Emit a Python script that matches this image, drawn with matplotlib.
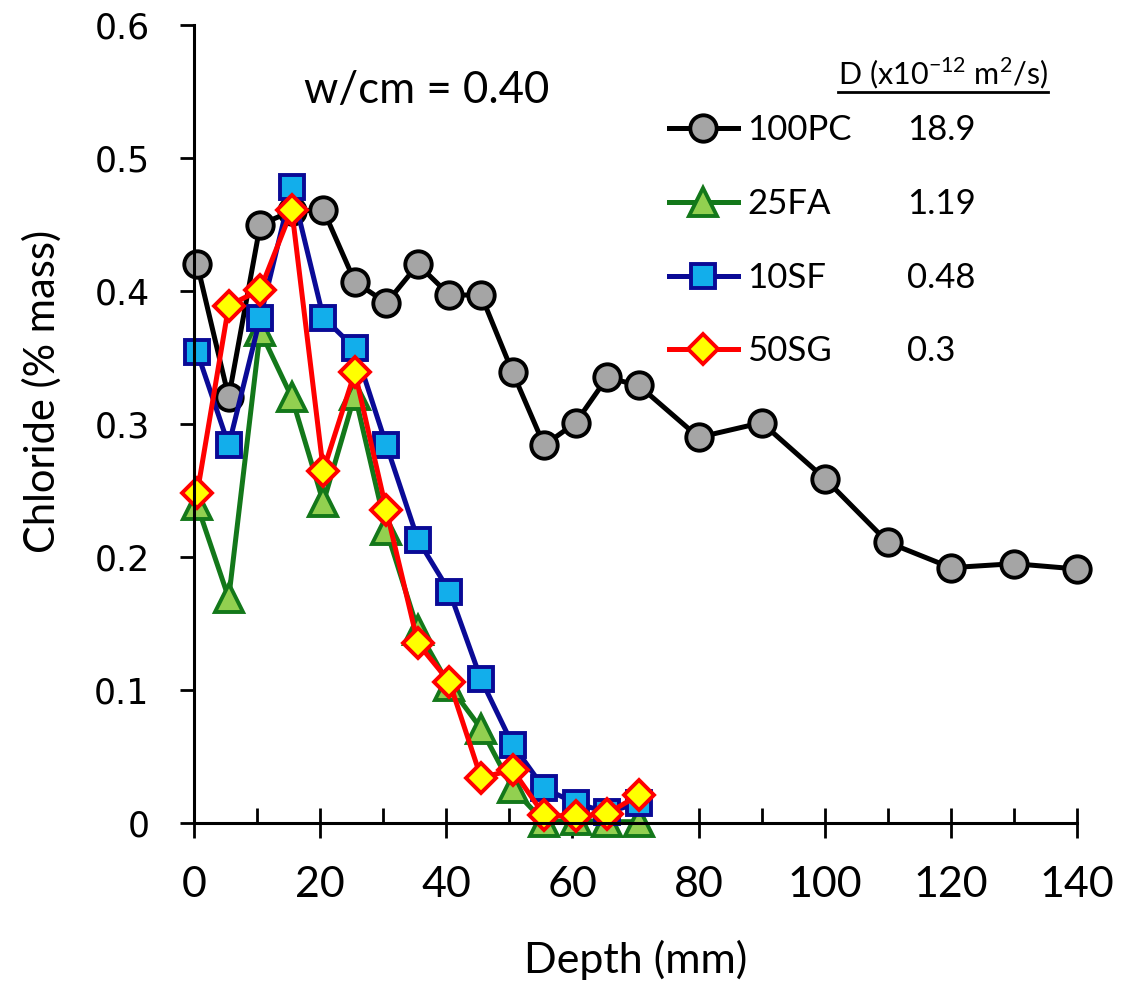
import matplotlib
matplotlib.use("Agg")
import matplotlib.pyplot as plt
from matplotlib.lines import Line2D
from matplotlib.ticker import MultipleLocator

plt.rcParams['font.family'] = ['Lato', 'DejaVu Sans']

# ---- data ----
depth_pc = [0.5, 5.5, 10.5, 15.5, 20.5, 25.5, 30.5, 35.5, 40.5, 45.5, 50.5, 55.5,
            60.5, 65.5, 70.5, 80, 90, 100, 110, 120, 130, 140]
cl_100pc = [0.420, 0.320, 0.450, 0.460, 0.461, 0.407, 0.391, 0.420, 0.397, 0.397, 0.339, 0.284,
            0.301, 0.335, 0.329, 0.290, 0.301, 0.259, 0.211, 0.192, 0.195, 0.191]

depth_sc = [0.5, 5.5, 10.5, 15.5, 20.5, 25.5, 30.5, 35.5, 40.5, 45.5, 50.5, 55.5,
            60.5, 65.5, 70.5]
cl_25fa = [0.239, 0.169, 0.370, 0.320, 0.241, 0.322, 0.220, 0.145, 0.103, 0.071, 0.026, 0.001,
           0.002, 0.001, 0.001]
cl_10sf = [0.354, 0.284, 0.380, 0.478, 0.380, 0.357, 0.284, 0.213, 0.174, 0.108, 0.059, 0.026,
           0.015, 0.008, 0.015]
cl_50sg = [0.248, 0.389, 0.401, 0.461, 0.265, 0.339, 0.235, 0.135, 0.106, 0.034, 0.040, 0.006,
           0.005, 0.007, 0.021]

labels = ['100PC', '25FA', '10SF', '50SG']
d_values = ['18.9', '1.19', '0.48', '0.3']
x_ticks = [0, 20, 40, 60, 80, 100, 120, 140]
y_ticks = [0, 0.1, 0.2, 0.3, 0.4, 0.5, 0.6]

styles = [
    dict(color='black', marker='o', mfc='#A5A5A5', mec='black', ms=19),
    dict(color='#13781A', marker='^', mfc='#92D050', mec='#13781A', ms=20),
    dict(color='#0A0A96', marker='s', mfc='#12AEEB', mec='#0A0A96', ms=17),
    dict(color='#FF0000', marker='D', mfc='#FFFF00', mec='#FF0000', ms=15),
]

fig = plt.figure(figsize=(11.38, 9.82), dpi=100)
ax = fig.add_axes([0.1705, 0.1619, 0.776, 0.8126])

series = [(depth_pc, cl_100pc), (depth_sc, cl_25fa), (depth_sc, cl_10sf), (depth_sc, cl_50sg)]
handles = []
for (xs, ys), st, lab in zip(series, styles, labels):
    h, = ax.plot(xs, ys, lw=3.6, mew=2.8, label=lab, clip_on=False, **st)
    handles.append(h)

ax.set_xlim(0, 140)
ax.set_ylim(0, 0.6)
ax.set_xticks(x_ticks)
ax.set_yticks(y_ticks)
ax.set_yticklabels(['0' if v == 0 else f'{v:.1f}' for v in y_ticks],
                   family='DejaVu Sans', fontsize=25)
ax.set_xticklabels([str(v) for v in x_ticks], fontsize=31)
ax.xaxis.set_minor_locator(MultipleLocator(10))
ax.tick_params(axis='x', which='major', direction='inout', length=22, width=2, pad=20)
ax.tick_params(axis='x', which='minor', direction='in', length=11, width=2)
ax.tick_params(axis='y', which='major', direction='out', length=10, width=2, pad=22)
for s in ['top', 'right']:
    ax.spines[s].set_visible(False)
for s in ['left', 'bottom']:
    ax.spines[s].set_linewidth(2.2)

ax.set_xlabel('Depth (mm)', fontsize=31, labelpad=26)
ax.set_ylabel('Chloride (% mass)', fontsize=30)
ax.yaxis.set_label_coords(-0.1495, 0.541)

ax.text(17.5, 0.551, 'w/cm = 0.40', fontsize=31.5, va='center', ha='left')

leg = ax.legend(handles=handles, labels=labels, loc='upper left',
                bbox_to_anchor=(0.5375, 0.888), frameon=False, fontsize=25,
                handlelength=2.0, handletextpad=0.26, labelspacing=1.2,
                borderpad=0, borderaxespad=0)
ax.add_artist(leg)

blank = [Line2D([], [], lw=0) for _ in d_values]
leg2 = ax.legend(handles=blank, labels=d_values, loc='upper left',
                 bbox_to_anchor=(0.8075, 0.888), frameon=False, fontsize=25,
                 handlelength=0, handletextpad=0, labelspacing=1.2,
                 borderpad=0, borderaxespad=0)

hdr = ax.text(0.967, 0.940, r'D (x10$^{\mathregular{-12}}$ m$^{\mathregular{2}}$/s)',
              transform=ax.transAxes, fontsize=22, ha='right', va='center')

fig.canvas.draw()
bb = hdr.get_window_extent().transformed(fig.transFigure.inverted())
fig.add_artist(Line2D([bb.x0, bb.x1], [bb.y0 - 0.001, bb.y0 - 0.001],
                      transform=fig.transFigure, color='black', lw=2))

fig.savefig('out.png', dpi=100)
